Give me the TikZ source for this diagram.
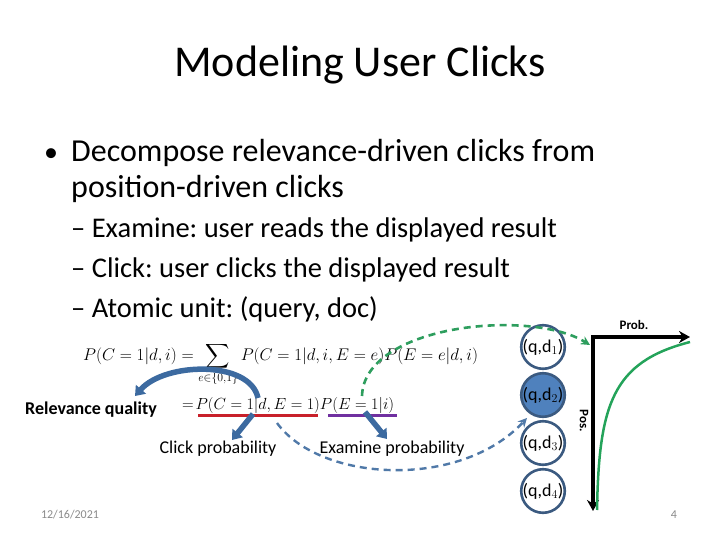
\documentclass[tikz,border=0pt]{standalone}
\usepackage{amsmath,amssymb}
\usepackage{fontspec}
\setmainfont{Carlito}
\usetikzlibrary{arrows.meta}
\definecolor{circedge}{HTML}{3B5A80}
\definecolor{circfill}{HTML}{4F81BD}
\definecolor{thickblue}{HTML}{3C6AA0}
\definecolor{dashblue}{HTML}{5079A8}
\definecolor{dashgreen}{HTML}{2E9E5E}
\definecolor{curvegreen}{HTML}{24A35A}
\definecolor{ulred}{HTML}{C8202A}
\definecolor{ulpurple}{HTML}{7030A0}
\definecolor{footgray}{HTML}{8A8A8A}
\frenchspacing
\begin{document}
\begin{tikzpicture}[x=1pt,y=-1pt,
  txt/.style={inner sep=0pt,anchor=base west},
  docnode/.style={circle,draw=circedge,line width=2.6pt,minimum size=40pt,inner sep=0pt,font=\fontsize{18}{18}\selectfont},
  bigarrow/.style={draw=thickblue,line width=5.5pt,-{Triangle[length=9pt,width=13pt]}},
  axis/.style={line width=3.5pt,-{Stealth[length=11pt,width=12pt]}},
  ul/.style={line width=3pt}
]
\useasboundingbox (0,0) rectangle (720,540);
% title
\node[inner sep=0pt,anchor=base,font=\fontsize{44}{44}\selectfont] (title) at (360,77) {Modeling User Clicks};
% bullets
\node[txt,font=\fontsize{28}{28}\selectfont] (b1m) at (44,162) {\textbullet};
\node[txt,font=\fontsize{32}{32}\selectfont] (b1a) at (71,162) {Decompose relevance-driven clicks from};
\node[txt,font=\fontsize{32}{32}\selectfont] (b1b) at (71,198) {position-driven clicks};
\node[txt,font=\fontsize{28.5}{28.5}\selectfont] (s1) at (71,237) {– Examine: user reads the displayed result};
\node[txt,font=\fontsize{28.5}{28.5}\selectfont] (s2) at (71,277) {– Click: user clicks the displayed result};
\node[txt,font=\fontsize{28.5}{28.5}\selectfont] (s3) at (71,317) {– Atomic unit: (query, doc)};
% formulas
\node[inner sep=0pt,anchor=west,scale=0.978,font=\fontsize{17.28}{17.28}\selectfont] (f1) at (83,364) {$\displaystyle P(C=1|d,i) = \sum_{e\in\{0,1\}} P(C=1|d,i,E=e)P(E=e|d,i)$};
\node[inner sep=0pt,anchor=west,scale=0.932,font=\fontsize{17.28}{17.28}\selectfont] (f2) at (182,405) {$=\!P(C=1|d,E=1)P(E=1|i)$};
% underlines
\coordinate (r1) at (198,415); \coordinate (r2) at (318,415);
\coordinate (p1) at (328,415); \coordinate (p2) at (397,415);
\draw[ul,ulred] (r1) -- (r2);
\draw[ul,ulpurple] (p1) -- (p2);
% labels
\node[inner sep=0pt,anchor=west,font=\fontsize{18}{18}\selectfont\bfseries] (rq) at (25,410) {Relevance quality};
\node[inner sep=0pt,anchor=center,font=\fontsize{18}{18}\selectfont] (cp) at (218,449) {Click probability};
\node[inner sep=0pt,anchor=center,font=\fontsize{18}{18}\selectfont] (ep) at (392,449) {Examine probability};
% thick blue arrows
\coordinate (a1s) at (258,398); \coordinate (a1e) at (135,396);
\draw[bigarrow] (a1s) .. controls (250,360) and (165,362) .. (a1e);
\coordinate (a2s) at (253,414); \coordinate (a2e) at (232,440);
\draw[bigarrow] (a2s) -- (a2e);
\coordinate (a3s) at (365,412); \coordinate (a3e) at (387,439);
\draw[bigarrow] (a3s) -- (a3e);
% docs
\node[docnode] (d1) at (543,347) {(q,d$_1$)};
\node[docnode,fill=circfill] (d2) at (543,395) {(q,d$_2$)};
\node[docnode] (d3) at (543,443) {(q,d$_3$)};
\node[docnode] (d4) at (543,491) {(q,d$_4$)};
% axes
\coordinate (o) at (593,337);
\coordinate (xe) at (690,337);
\coordinate (ye) at (593,511);
\draw[axis] ([xshift=-1.75pt]o) -- (xe);
\draw[axis] (o) -- (ye);
\node[inner sep=0pt,font=\fontsize{13}{13}\selectfont\bfseries] (prob) at (634,325) {Prob.};
\node[inner sep=0pt,rotate=-90,font=\fontsize{13}{13}\selectfont\bfseries] (pos) at (584,421) {Pos.};
\coordinate (c1) at (597,510); \coordinate (c2) at (690,342);
\draw[curvegreen,line width=2.5pt] (c1) .. controls (599,405) and (612,362) .. (c2);
% dashed arrows
\coordinate (g1) at (362,396); \coordinate (g2) at (590,345);
\draw[dashgreen,line width=2.6pt,dash pattern=on 7pt off 5pt,-{Stealth[length=9pt,width=9pt]}] (g1) .. controls (364,325) and (530,308) .. (g2);
\coordinate (u1) at (277,423); \coordinate (u2) at (527,418);
\draw[dashblue,line width=2.4pt,dash pattern=on 7pt off 5pt,-{Stealth[length=9pt,width=9pt]}] (u1) .. controls (320,482) and (460,490) .. (u2);
% footer
\node[inner sep=0pt,font=\fontsize{12}{12}\selectfont,text=footgray] (date) at (70,515) {12/16/2021};
\node[inner sep=0pt,font=\fontsize{12}{12}\selectfont,text=footgray] (pnum) at (674,515) {4};
\end{tikzpicture}
\end{document}
